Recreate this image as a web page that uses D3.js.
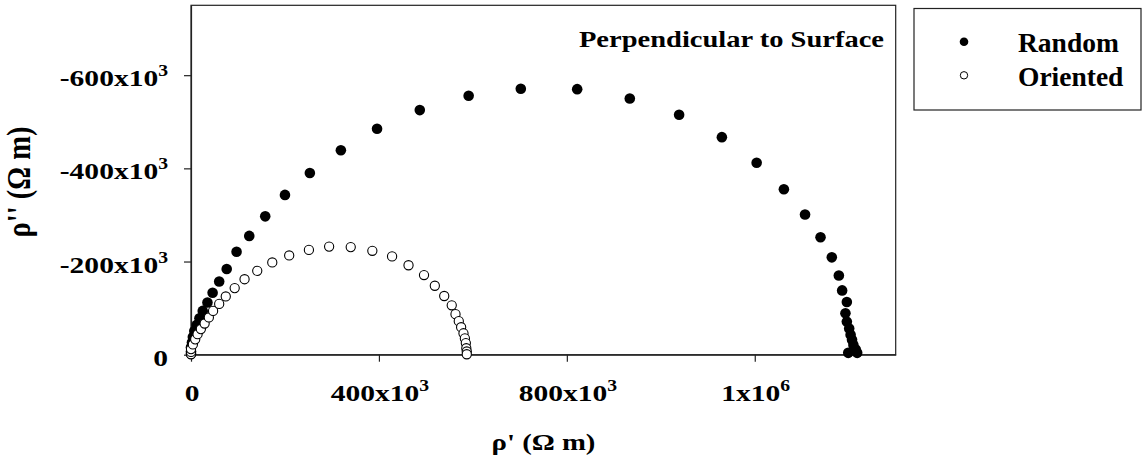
<!DOCTYPE html>
<html>
<head>
<meta charset="utf-8">
<script src="https://cdn.jsdelivr.net/npm/d3@7"></script>
<style>
  body { margin: 0; background: #fff; }
  svg text { font-family: "Liberation Serif", "Times New Roman", serif; font-weight: bold; fill: #000; }
</style>
</head>
<body>
<svg id="chart" width="1142" height="467"></svg>
<script>
// values in Ohm m (rho'' is negative, plotted upward)
var randomRe = [0, 0, 0, 2e3, 4e3, 7e3, 12e3, 18e3, 25e3, 35e3, 46e3, 60e3, 76e3, 97e3, 124e3, 158e3,
  200e3, 253e3, 319e3, 396e3, 487e3, 591e3, 702e3, 822e3, 934e3, 1039e3, 1130e3, 1204e3, 1262e3,
  1307e3, 1340e3, 1364e3, 1379e3, 1386e3, 1396e3, 1393e3, 1396e3, 1401e3, 1404e3, 1407e3, 1410e3,
  1415e3, 1418e3, 1399e3];
var randomIm = [-2e3, -7e3, -16e3, -26e3, -38e3, -51e3, -64e3, -78e3, -94e3, -112e3, -133e3, -157e3,
  -184e3, -221e3, -255e3, -297e3, -343e3, -390e3, -439e3, -485e3, -525e3, -556e3, -571e3, -570e3,
  -550e3, -515e3, -467e3, -412e3, -355e3, -301e3, -252e3, -209e3, -170e3, -138e3, -113e3, -89e3,
  -71e3, -56e3, -43e3, -32e3, -21e3, -11e3, -4e3, -4e3];

var orientedRe = [0, 0, 0, 4e3, 9e3, 14e3, 21e3, 29e3, 38e3, 47e3, 60e3, 74e3, 93e3, 114e3, 141e3,
  173e3, 209e3, 251e3, 294e3, 340e3, 386e3, 428e3, 463e3, 496e3, 519e3, 539e3, 555e3, 563e3, 570e3,
  575e3, 580e3, 583e3, 585e3, 586e3, 587e3, 587e3];
var orientedIm = [-1e3, -6e3, -12e3, -22e3, -33e3, -44e3, -55e3, -67e3, -80e3, -94e3, -109e3, -125e3,
  -143e3, -162e3, -180e3, -198e3, -213e3, -225e3, -232e3, -231e3, -223e3, -211e3, -192e3, -171e3,
  -148e3, -126e3, -106e3, -87e3, -72e3, -59e3, -46e3, -35e3, -25e3, -14e3, -7e3, -1e3];

var xTicks = [0, 400e3, 800e3, 1200e3];
var xTickLabels = [["0", ""], ["400x10", "3"], ["800x10", "3"], ["1x10", "6"]];
var yTicks = [0, -200e3, -400e3, -600e3];
var yTickLabels = [["0", ""], ["-200x10", "3"], ["-400x10", "3"], ["-600x10", "3"]];

var seriesNames = ["Random", "Oriented"];
var panelTitle = "Perpendicular to Surface";

(function() {
  var svg = d3.select("#chart");

  var plotLeft = 191, plotRight = 895.7, plotTop = 5.3, plotBottom = 354.7;
  var x = d3.scaleLinear().domain([0, 1500e3]).range([plotLeft, plotRight]);
  var y = d3.scaleLinear().domain([0, -750e3]).range([plotBottom, plotTop]);

  var stretch = 1.23; // text in the source is drawn wide

  // frame
  svg.append("rect")
    .attr("x", plotLeft).attr("y", plotTop)
    .attr("width", plotRight - plotLeft).attr("height", plotBottom - plotTop)
    .attr("fill", "none").attr("stroke", "#222").attr("stroke-width", 1.2);

  // axes (ticks only, labels drawn below with superscripts)
  var yAxis = svg.append("g")
    .attr("transform", "translate(" + plotLeft + ",0)")
    .call(d3.axisLeft(y).tickValues(yTicks).tickSize(7).tickSizeOuter(0).tickFormat(""));
  var xAxis = svg.append("g")
    .attr("transform", "translate(0," + plotBottom + ")")
    .call(d3.axisBottom(x).tickValues(xTicks).tickSize(7).tickSizeOuter(0).tickFormat(""));
  [xAxis, yAxis].forEach(function(a) {
    a.select(".domain").attr("stroke", "#222").attr("stroke-width", 1.2);
    a.selectAll(".tick line").attr("stroke", "#222").attr("stroke-width", 1.2);
  });

  var addLabel = function(g, parts, tx, ty, anchor) {
    var t = g.append("text")
      .attr("transform", "translate(" + tx + "," + ty + ") scale(" + stretch + ",1)")
      .attr("text-anchor", anchor)
      .style("font-size", "24px");
    t.append("tspan").text(parts[0]);
    if (parts[1]) {
      t.append("tspan").attr("dy", -10).style("font-size", "16px").text(parts[1]);
    }
  };

  yAxis.selectAll(".tick").each(function(d, i) {
    addLabel(d3.select(this), yTickLabels[i], -23, 10.5, "end");
  });
  xAxis.selectAll(".tick").each(function(d, i) {
    addLabel(d3.select(this), xTickLabels[i], 0.5, 46, "middle");
  });

  // axis titles
  svg.append("text")
    .attr("transform", "translate(543.5,450) scale(1.25,1)")
    .attr("text-anchor", "middle")
    .style("font-size", "23px")
    .text("\u03c1' (\u03a9 m)");
  svg.append("text")
    .attr("transform", "translate(30,182) rotate(-90) scale(1,1.2)")
    .attr("text-anchor", "middle")
    .style("font-size", "28.5px")
    .text("\u03c1'' (\u03a9 m)");

  // panel title
  svg.append("text")
    .attr("transform", "translate(884,46.7) scale(1.24,1)")
    .attr("text-anchor", "end")
    .style("font-size", "23px")
    .text(panelTitle);

  // points
  var randomPts = d3.zip(randomRe, randomIm);
  var orientedPts = d3.zip(orientedRe, orientedIm);

  svg.append("g").selectAll("circle").data(randomPts).join("circle")
    .attr("cx", function(d) { return x(d[0]); })
    .attr("cy", function(d) { return y(d[1]); })
    .attr("r", 5.3)
    .attr("fill", "#000");

  svg.append("g").selectAll("circle").data(orientedPts).join("circle")
    .attr("cx", function(d) { return x(d[0]); })
    .attr("cy", function(d) { return y(d[1]); })
    .attr("r", 4.6)
    .attr("fill", "#fff")
    .attr("stroke", "#000")
    .attr("stroke-width", 1.1);

  // legend
  var legend = svg.append("g");
  legend.append("rect")
    .attr("x", 914).attr("y", 8.5).attr("width", 227).attr("height", 101.5)
    .attr("fill", "#fff").attr("stroke", "#222").attr("stroke-width", 1.2);
  legend.append("circle").attr("cx", 964).attr("cy", 41.7).attr("r", 4.3).attr("fill", "#000");
  legend.append("circle").attr("cx", 964).attr("cy", 75.3).attr("r", 3.7)
    .attr("fill", "#fff").attr("stroke", "#000").attr("stroke-width", 1);
  legend.selectAll("text.lbl").data(seriesNames).join("text")
    .attr("class", "lbl")
    .attr("x", 1018)
    .attr("y", function(d, i) { return i === 0 ? 51.7 : 86; })
    .style("font-size", "27.5px")
    .text(function(d) { return d; });
})();
</script>
</body>
</html>
